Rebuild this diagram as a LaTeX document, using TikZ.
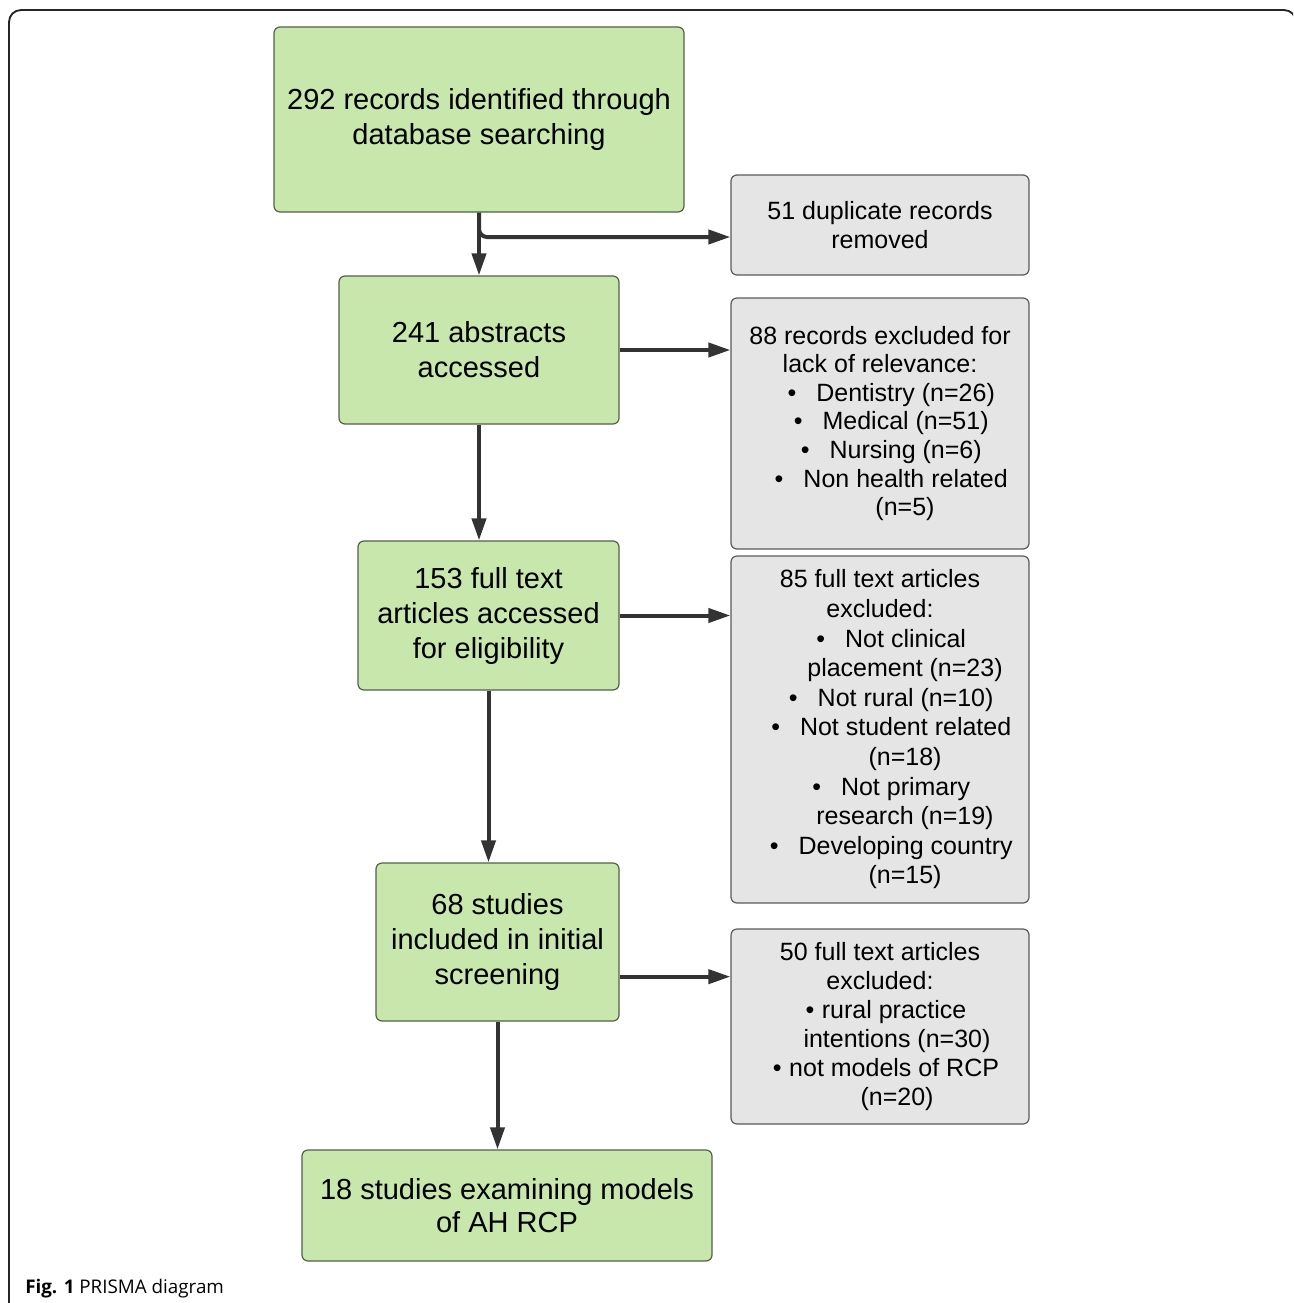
\documentclass[tikz,border=0pt]{standalone}
\usepackage{fontspec}
\setmainfont{Liberation Sans}
\newfontfamily\capfont{Open Sans}
\usetikzlibrary{arrows.meta,positioning}

\definecolor{boxgreen}{RGB}{199,231,172}
\definecolor{boxgrey}{RGB}{229,229,229}
\definecolor{edgegreen}{RGB}{85,95,75}
\definecolor{edgegrey}{RGB}{90,90,90}
\definecolor{flowgrey}{RGB}{51,51,51}

% list lines inside the exclusion boxes
\newcommand{\itm}[2][0.9em]{\hspace*{#1}\textbullet\hspace{0.8em}#2}
\newcommand{\itmshort}[1]{\hspace*{0.48em}\textbullet\hspace{0.3em}#1}
\newcommand{\cnt}[2][2em]{\hspace*{#1}#2}

\tikzset{%
  % Specifications for style of nodes:
      greenbox/.style = {rectangle, rounded corners=4.5pt, draw=edgegreen, line width=0.9pt, fill=boxgreen, inner sep=0pt, align=center, font=\fontsize{21.75}{26.25}\selectfont},
       greybox/.style = {rectangle, rounded corners=4.5pt, draw=edgegrey, line width=0.9pt, fill=boxgrey, inner sep=0pt, align=center, minimum width=223.5pt, font=\fontsize{18.75}{21.75}\selectfont},
          flow/.style = {-{Triangle[length=16.5pt,width=10.5pt]}, line width=3pt, draw=flowgrey},
}

\begin{document}
\begin{tikzpicture}[x=0.75pt, y=-0.75pt]
    \useasboundingbox (0,0) rectangle (1293,1303);
    \clip (0,0) rectangle (1293,1303);
    \draw[line width=1.4pt, draw=black!85, rounded corners=9pt] (9,10) rectangle (1296,1330);

    % Draw nodes
    \node (records)    [greenbox, minimum width=307.5pt, minimum height=138.75pt] at (479,119.5) {292 records identified through\\database searching};
    \node (duplicates) [greybox, minimum height=75pt] at (880,225) {51 duplicate records\\removed};
    \node (abstracts)  [greenbox, minimum width=210pt, minimum height=111pt] at (479,350) {241 abstracts\\accessed};
    \node (excl1)      [greybox, minimum height=188.25pt, font=\fontsize{18.75}{21.4}\selectfont] at (880,423.5)
        {88 records excluded for\\lack of relevance:\\\itm{Dentistry (n=26)}\\\itm{Medical (n=51)}\\\itm{Nursing (n=6)}\\\itm{Non health related}\\\cnt{(n=5)}};
    \node (fulltext)   [greenbox, minimum width=195.75pt, minimum height=111.75pt] at (488.5,615.5) {153 full text\\articles accessed\\for eligibility};
    \node (excl2)      [greybox, minimum height=260.25pt, font=\fontsize{18.75}{22.2}\selectfont] at (880,729.5)
        {85 full text articles\\excluded:\\\itm{Not clinical}\\\cnt{placement (n=23)}\\\itm{Not rural (n=10)}\\\itm{Not student related}\\\cnt{(n=18)}\\\itm{Not primary}\\\cnt{research (n=19)}\\\itm{Developing country}\\\cnt{(n=15)}};
    \node (initial)    [greenbox, minimum width=182.25pt, minimum height=118.5pt] at (497.5,942) {68 studies\\included in initial\\screening};
    \node (excl3)      [greybox, minimum height=146.25pt] at (880,1026.5)
        {50 full text articles\\excluded:\\\itmshort{rural practice}\\\cnt[1.36em]{intentions (n=30)}\\\itmshort{not models of RCP}\\\cnt[1.36em]{(n=20)}};
    \node (models)     [greenbox, minimum width=307.5pt, minimum height=83.25pt, font=\fontsize{21.75}{24.75}\selectfont] at (507,1205.5) {18 studies examining models\\of AH RCP};

    \node (caption) [anchor=base west, inner sep=0pt, font=\capfont\fontsize{14.1}{17}\selectfont] at (25,1293) {\textbf{Fig. 1} PRISMA diagram};

    % Draw arrows
    \draw[flow]                    (records.south) -- (abstracts.north);
    \draw[flow, rounded corners=6pt] (records.south) |- ([yshift=-9pt]duplicates.west);
    \draw[flow]                    (abstracts.east) -- (abstracts.east -| excl1.west);
    \draw[flow]                    (abstracts.south) -- (abstracts.south |- fulltext.north);
    \draw[flow]                    (fulltext.east) -- (fulltext.east -| excl2.west);
    \draw[flow]                    (fulltext.south) -- (fulltext.south |- initial.north);
    \draw[flow]                    ([yshift=-26pt]initial.east) -- ([yshift=-26pt]initial.east -| excl3.west);
    \draw[flow]                    (initial.south) -- (initial.south |- models.north);

\end{tikzpicture}
\end{document}
